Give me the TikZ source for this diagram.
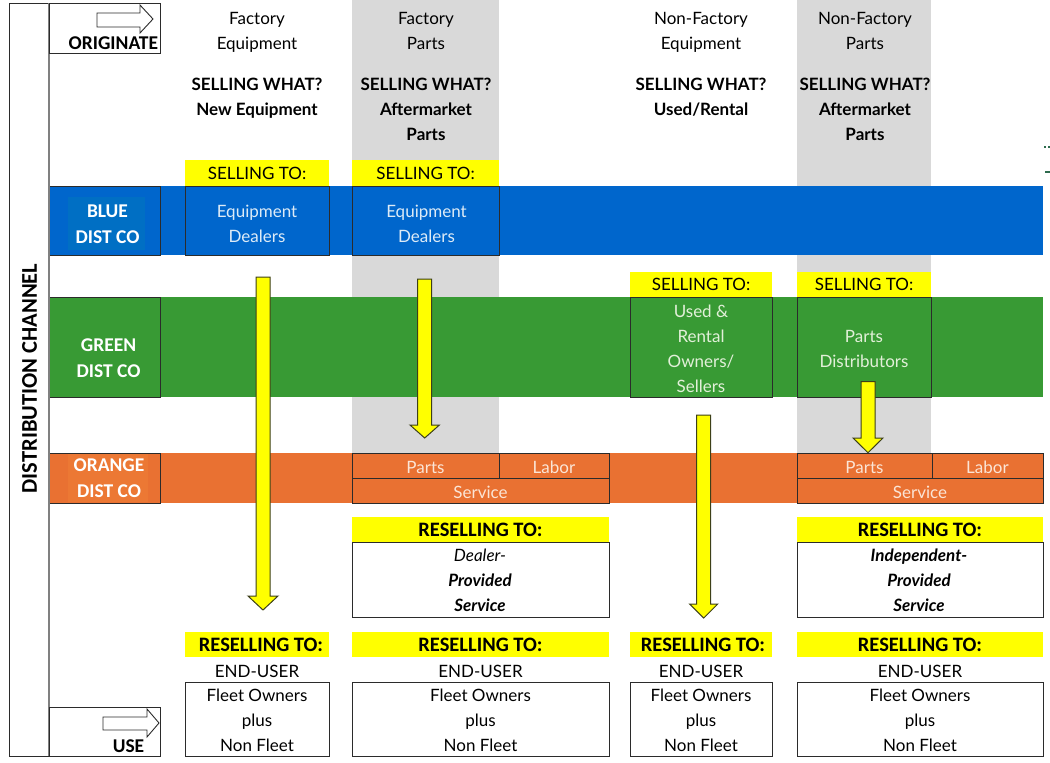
\documentclass[tikz,border=0pt]{standalone}
\usepackage{fontspec}
\setmainfont{Lato}
\newfontfamily\calfont{Carlito}
\usetikzlibrary{fit,calc}
\definecolor{dblue}{HTML}{0066CC}
\definecolor{dblueL}{HTML}{006FC4}
\definecolor{dgreen}{HTML}{389A34}
\definecolor{dorange}{HTML}{E97132}
\definecolor{dorangeL}{HTML}{EC7834}
\definecolor{colgray}{HTML}{D9D9D9}
\definecolor{ylw}{HTML}{FFFF00}
\definecolor{edge}{HTML}{2B2B2B}
\definecolor{arrowedge}{HTML}{3D4019}
\definecolor{txtblue}{HTML}{DDEBF7}
\definecolor{txtgreen}{HTML}{E2F0D9}
\definecolor{txtorange}{HTML}{FBE5D6}
\definecolor{markgreen}{HTML}{2E6B4E}
\newcommand\blockarrow[4]{%
  \draw[yarr] let \p1=(#1), \p2=(#2) in
  (\x1-7pt,\y1) -- (\x1+7pt,\y1) -- (\x1+7pt,\y2+#3pt) -- (\x1+#4pt,\y2+#3pt)
  -- (\x1,\y2) -- (\x1-#4pt,\y2+#3pt) -- (\x1-7pt,\y2+#3pt) -- cycle;}
\begin{document}
\begin{tikzpicture}[x=1pt,y=-1pt,
  every node/.style={inner sep=0pt, outer sep=0pt},
  box/.style={draw=edge, line width=0.8pt},
  plain/.style={draw=none},
  body/.style={font=\fontsize{17}{25}\selectfont, align=center},
  bodyb/.style={font=\fontsize{17}{25}\selectfont\bfseries, align=center},
  cal/.style={font=\calfont\bfseries\fontsize{19.5}{26}\selectfont, align=center},
  resell/.style={font=\calfont\bfseries\fontsize{20.5}{25}\selectfont},
  otxt/.style={body, text=txtorange},
  yarr/.style={fill=ylw, draw=arrowedge, line width=1pt, line join=miter},
  outarrow/.style={fill=white, draw=edge, line width=0.9pt, line join=miter},
]
\useasboundingbox (0,0) rectangle (1050,763);
\fill[white] (0,0) rectangle (1050,763);

% gray columns
\node[plain, fill=colgray, fit={(352,0)(499,453)}] (gcolA) {};
\node[plain, fill=colgray, fit={(797,0)(931,453)}] (gcolB) {};

% bands
\node[plain, fill=dblue, fit={(49,186)(1043,255)}] (bblue) {};
\node[plain, fill=dgreen, fit={(49,297)(1043,397)}] (bgreen) {};
\node[plain, fill=dorange, fit={(49,453)(1043,503)}] (borange) {};

% label boxes
\node[box, fill=dblue, fit={(49,186)(160,255)}] (lblue) {};
\node[plain, fill=dblueL, fit={(68,197)(145,250)}] (lblueIn) {};
\node[box, fill=dgreen, fit={(49,297)(160,397)}] (lgreen) {};
\node[box, fill=dorange, fit={(49,453)(160,503)}] (lorange) {};
\node[plain, fill=dorangeL, fit={(68,454)(148,502)}] (lorangeIn) {};

% blue band boxes
\node[box, fill=dblue, fit={(185,186)(329,255)}] (deal1) {};
\node[box, fill=dblue, fit={(352,186)(499,255)}] (deal2) {};
% green band boxes
\node[box, fill=dgreen, fit={(630,297)(772,397)}] (used3) {};
\node[box, fill=dgreen, fit={(797,297)(931,397)}] (dist4) {};

% SELLING TO labels
\node[plain, fill=ylw, fit={(185,160)(329,186)}] (st1) {};
\node[plain, fill=ylw, fit={(352,160)(499,186)}] (st2) {};
\node[plain, fill=ylw, fit={(630,272)(772,297)}] (st3) {};
\node[plain, fill=ylw, fit={(797,272)(931,297)}] (st4) {};
\node[body] (st1t) at (st1) {SELLING TO:};
\node[body] (st2t) at (st2) {SELLING TO:};
\node[body] (st3t) at (st3) {SELLING TO:};
\node[body] (st4t) at (st4) {SELLING TO:};

% orange sub-boxes
\node[box, fill=dorange, fit={(352,453)(499,478)}] (parts2) {};
\node[box, fill=dorange, fit={(499,453)(609,478)}] (labor2) {};
\node[box, fill=dorange, fit={(352,478)(609,503)}] (serv2) {};
\node[box, fill=dorange, fit={(797,453)(932,478)}] (parts4) {};
\node[box, fill=dorange, fit={(932,453)(1043,478)}] (labor4) {};
\node[box, fill=dorange, fit={(797,478)(1043,503)}] (serv4) {};
\node[otxt] (parts2t) at ([yshift=-2pt]parts2) {Parts};
\node[otxt] (labor2t) at ([yshift=-2pt]labor2) {Labor};
\node[otxt] (serv2t) at ([yshift=-1.5pt]serv2) {Service};
\node[otxt] (parts4t) at ([yshift=-2pt]parts4) {Parts};
\node[otxt] (labor4t) at ([yshift=-2pt]labor4) {Labor};
\node[otxt] (serv4t) at ([yshift=-1.5pt]serv4) {Service};

% middle reselling
\node[plain, fill=ylw, fit={(352,517)(609,542)}] (rm2) {};
\node[box, fill=white, fit={(352,542)(609,617)}] (svc2) {};
\node[plain, fill=ylw, fit={(797,517)(1043,542)}] (rm4) {};
\node[box, fill=white, fit={(797,542)(1043,617)}] (svc4) {};
\node[resell] (rm2t) at (rm2) {RESELLING TO:};
\node[resell] (rm4t) at (rm4) {RESELLING TO:};

% bottom reselling
\node[plain, fill=ylw, fit={(185,632)(329,657)}] (rb1) {};
\node[plain, fill=ylw, fit={(352,632)(609,657)}] (rb2) {};
\node[plain, fill=ylw, fit={(630,632)(772,657)}] (rb3) {};
\node[plain, fill=ylw, fit={(797,632)(1043,657)}] (rb4) {};
\node[resell] (rb1t) at ([xshift=4pt]rb1) {RESELLING TO:};
\node[resell] (rb2t) at (rb2) {RESELLING TO:};
\node[resell] (rb3t) at ([xshift=2pt]rb3) {RESELLING TO:};
\node[resell] (rb4t) at (rb4) {RESELLING TO:};
\node[body] (eu1) at (257,671) {END-USER};
\node[body] (eu2) at (480.5,671) {END-USER};
\node[body] (eu3) at (701,671) {END-USER};
\node[body] (eu4) at (920,671) {END-USER};
\node[box, fill=white, fit={(185,682)(329,756)}] (fl1) {};
\node[box, fill=white, fit={(352,682)(609,756)}] (fl2) {};
\node[box, fill=white, fit={(630,682)(772,756)}] (fl3) {};
\node[box, fill=white, fit={(797,682)(1043,756)}] (fl4) {};

% frame
\node[draw=edge, line width=0.9pt, fit={(9,3)(49,756)}] (frame) {};
\draw[gray, line width=1.5pt] (frame.north east) -- (frame.south east);
\node[box, fit={(49,3)(160,53)}] (origbox) {};
\node[box, fit={(49,707)(160,756)}] (usebox) {};
\draw[outarrow] (97,13) -- (140,13) -- (140,5) -- (153,19) -- (140,33) -- (140,27) -- (97,27) -- cycle;
\draw[outarrow] (103,717) -- (147,717) -- (147,709) -- (159,723) -- (147,737) -- (147,730) -- (103,730) -- cycle;

% yellow arrows
\coordinate (a1s) at (263,277);   \coordinate (a1e) at (263,610);
\coordinate (a2s) at (424.7,279); \coordinate (a2e) at (424.7,438);
\coordinate (a3s) at (703.7,415); \coordinate (a3e) at (703.7,618);
\coordinate (a4s) at (868,381.7); \coordinate (a4e) at (868,452.7);
\blockarrow{a1s}{a1e}{14}{15}
\blockarrow{a2s}{a2e}{13}{14.7}
\blockarrow{a3s}{a3e}{14}{14}
\blockarrow{a4s}{a4e}{14.7}{15}

% texts (anchor=base is the baseline of the last line)
\node[font=\calfont\bfseries\fontsize{22.5}{26}\selectfont, rotate=90] (dc) at (29.5,378.5) {DISTRIBUTION CHANNEL};
\node[cal, anchor=base east] (orig) at (158,49) {ORIGINATE};
\node[cal, anchor=base] (use) at (128.5,752) {USE};

\node[body, anchor=base] (hd1) at (257,49) {Factory\\Equipment};
\node[body, anchor=base] (hd2) at (426,49) {Factory\\Parts};
\node[body, anchor=base] (hd3) at (701,49) {Non-Factory\\Equipment};
\node[body, anchor=base] (hd4) at (865,49) {Non-Factory\\Parts};
\node[bodyb, anchor=base] (sw1) at (257,115.7) {SELLING WHAT?\\New Equipment};
\node[bodyb, anchor=base] (sw2) at (426,140.7) {SELLING WHAT?\\Aftermarket\\Parts};
\node[bodyb, anchor=base] (sw3) at (701,115.7) {SELLING WHAT?\\Used/Rental};
\node[bodyb, anchor=base] (sw4) at (865,140.7) {SELLING WHAT?\\Aftermarket\\Parts};

\node[cal, text=white, anchor=base] (tblue) at (107.5,243.5) {BLUE\\DIST CO};
\node[cal, text=white, anchor=base] (tgreen) at (108.5,377.5) {GREEN\\DIST CO};
\node[cal, text=white, anchor=base] (torange) at (109,497.5) {ORANGE\\DIST CO};

\node[body, text=txtblue, anchor=base] (td1) at (257,242) {Equipment\\Dealers};
\node[body, text=txtblue, anchor=base] (td2) at (426.5,242) {Equipment\\Dealers};
\node[body, text=txtgreen, anchor=base] (tu3) at (701,392) {Used \&\\Rental\\Owners/\\Sellers};
\node[body, text=txtgreen, anchor=base] (tp4) at (864,367.5) {Parts\\Distributors};

\node[body, anchor=base] (ts2) at (480,611) {\textit{Dealer-}\\\textbf{\textit{Provided}}\\\textbf{\textit{Service}}};
\node[body, anchor=base] (ts4) at (919,611) {\textbf{\textit{Independent-}}\\\textbf{\textit{Provided}}\\\textbf{\textit{Service}}};

\node[body, anchor=base] (tf1) at (257,751.5) {Fleet Owners\\plus\\Non Fleet};
\node[body, anchor=base] (tf2) at (480.5,751.5) {Fleet Owners\\plus\\Non Fleet};
\node[body, anchor=base] (tf3) at (701,751.5) {Fleet Owners\\plus\\Non Fleet};
\node[body, anchor=base] (tf4) at (920,751.5) {Fleet Owners\\plus\\Non Fleet};

% small marks at the right edge
\draw[markgreen, line width=1.2pt] (1044,147) -- (1046,147) (1048,147) -- (1050,147);
\draw[markgreen, line width=1.2pt] (1045,172) -- (1050,172);
\end{tikzpicture}
\end{document}
